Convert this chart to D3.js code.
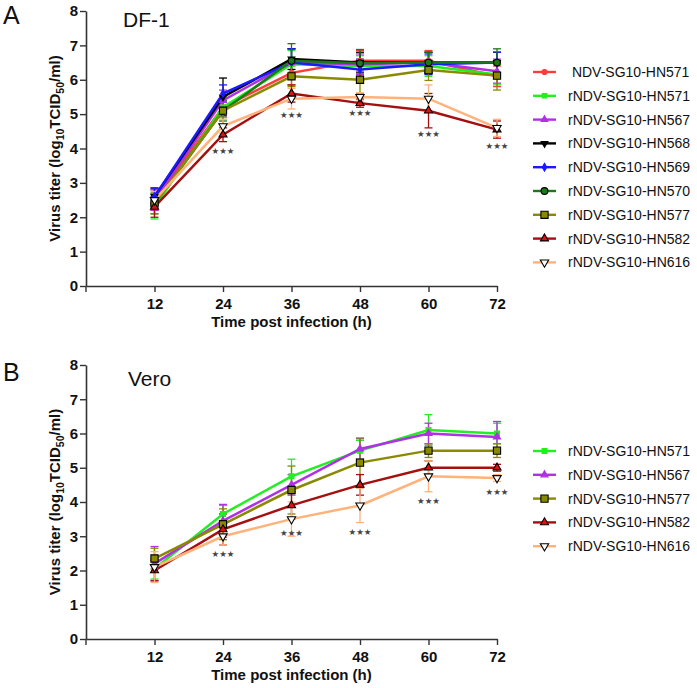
<!DOCTYPE html>
<html>
<head>
<meta charset="utf-8">
<script src="https://cdn.jsdelivr.net/npm/d3@7"></script>
<style>
  body { margin: 0; background: #fff; }
  svg { font-family: "Liberation Sans", Arial, sans-serif; }
</style>
</head>
<body>
<div id="chart"></div>
<script>
// Time points and axis ticks
const hours = [12, 24, 36, 48, 60, 72];
const yTicks = [0, 1, 2, 3, 4, 5, 6, 7, 8];

// DF-1 cells: mean titers
const dfNDV571 = [2.5, 5.2, 6.2, 6.55, 6.55, 6.1];
const dfR571 = [2.3, 5.2, 6.45, 6.4, 6.4, 6.15];
const dfR567 = [2.5, 5.4, 6.5, 6.45, 6.5, 6.25];
const dfR568 = [2.6, 5.5, 6.6, 6.5, 6.5, 6.5];
const dfR569 = [2.6, 5.6, 6.5, 6.3, 6.45, 6.5];
const dfR570 = [2.4, 5.1, 6.55, 6.48, 6.5, 6.5];
const dfR577 = [2.4, 5.1, 6.1, 6.0, 6.28, 6.12];
const dfR582 = [2.3, 4.4, 5.6, 5.32, 5.1, 4.55];
const dfR616 = [2.5, 4.65, 5.45, 5.5, 5.45, 4.6];

// DF-1 cells: SD
const dfNDV571sd = [0.3, 0.3, 0.35, 0.3, 0.3, 0.3];
const dfR571sd = [0.35, 0.3, 0.4, 0.3, 0.3, 0.3];
const dfR567sd = [0.3, 0.3, 0.4, 0.3, 0.3, 0.35];
const dfR568sd = [0.25, 0.55, 0.3, 0.3, 0.3, 0.3];
const dfR569sd = [0.25, 0.25, 0.4, 0.3, 0.3, 0.3];
const dfR570sd = [0.3, 0.3, 0.5, 0.4, 0.3, 0.4];
const dfR577sd = [0.3, 0.4, 0.3, 0.4, 0.3, 0.42];
const dfR582sd = [0.3, 0.2, 0.25, 0.12, 0.5, 0.25];
const dfR616sd = [0.25, 0.2, 0.3, 0.12, 0.4, 0.25];

// Vero cells: mean titers
const veR571 = [2.05, 3.65, 4.75, 5.5, 6.1, 6.0];
const veR567 = [2.2, 3.45, 4.5, 5.55, 6.0, 5.9];
const veR577 = [2.35, 3.35, 4.35, 5.15, 5.5, 5.5];
const veR582 = [2.0, 3.2, 3.9, 4.5, 5.0, 5.0];
const veR616 = [2.1, 3.0, 3.5, 3.9, 4.75, 4.7];

// Vero cells: SD
const veR571sd = [0.3, 0.25, 0.5, 0.3, 0.45, 0.3];
const veR567sd = [0.5, 0.48, 0.3, 0.3, 0.3, 0.45];
const veR577sd = [0.3, 0.45, 0.7, 0.72, 0.2, 0.2];
const veR582sd = [0.3, 0.45, 0.4, 0.3, 0.2, 0.1];
const veR616sd = [0.45, 0.25, 0.5, 0.5, 0.45, 0.1];

// Significance marks (level in titer units, null = none)
const dfStars = [null, 3.95, 5.0, 5.05, 4.45, 4.1];
const veStars = [null, 2.5, 3.12, 3.13, 4.04, 4.3];

const dfSeries = [
  {name: ' NDV-SG10-HN571', v: dfNDV571, sd: dfNDV571sd, color: '#ff3b3b', fill: '#ff3b3b', stroke: '#ff3b3b', sym: d3.symbolCircle, size: 20},
  {name: 'rNDV-SG10-HN571', v: dfR571, sd: dfR571sd, color: '#22ee22', fill: '#22ee22', stroke: '#22ee22', sym: d3.symbolSquare, size: 20},
  {name: 'rNDV-SG10-HN567', v: dfR567, sd: dfR567sd, color: '#b030e8', fill: '#b030e8', stroke: '#b030e8', sym: d3.symbolTriangle, size: 20},
  {name: 'rNDV-SG10-HN568', v: dfR568, sd: dfR568sd, color: '#000000', fill: '#000000', stroke: '#000000', sym: d3.symbolTriangle, size: 20, down: true},
  {name: 'rNDV-SG10-HN569', v: dfR569, sd: dfR569sd, color: '#1a1aff', fill: '#1a1aff', stroke: '#1a1aff', sym: d3.symbolDiamond, size: 18},
  {name: 'rNDV-SG10-HN570', v: dfR570, sd: dfR570sd, color: '#1a7a1a', fill: '#1a7a1a', stroke: '#000', sym: d3.symbolCircle, size: 36},
  {name: 'rNDV-SG10-HN577', v: dfR577, sd: dfR577sd, color: '#8a8a00', fill: '#8a8a00', stroke: '#000', sym: d3.symbolSquare, size: 52},
  {name: 'rNDV-SG10-HN582', v: dfR582, sd: dfR582sd, color: '#a50f0f', fill: '#e01010', stroke: '#000', sym: d3.symbolTriangle, size: 28},
  {name: 'rNDV-SG10-HN616', v: dfR616, sd: dfR616sd, color: '#ffb27a', fill: '#ffffff', stroke: '#000', sym: d3.symbolTriangle, size: 30, down: true}
];

const veSeries = [
  {name: 'rNDV-SG10-HN571', v: veR571, sd: veR571sd, color: '#22ee22', fill: '#22ee22', stroke: '#22ee22', sym: d3.symbolSquare, size: 24},
  {name: 'rNDV-SG10-HN567', v: veR567, sd: veR567sd, color: '#b030e8', fill: '#b030e8', stroke: '#b030e8', sym: d3.symbolTriangle, size: 22},
  {name: 'rNDV-SG10-HN577', v: veR577, sd: veR577sd, color: '#8a8a00', fill: '#8a8a00', stroke: '#000', sym: d3.symbolSquare, size: 52},
  {name: 'rNDV-SG10-HN582', v: veR582, sd: veR582sd, color: '#a50f0f', fill: '#e01010', stroke: '#000', sym: d3.symbolTriangle, size: 28},
  {name: 'rNDV-SG10-HN616', v: veR616, sd: veR616sd, color: '#ffb27a', fill: '#ffffff', stroke: '#000', sym: d3.symbolTriangle, size: 30, down: true}
];

const W = 697, H = 688;
const svg = d3.select('#chart').append('svg')
  .attr('width', W).attr('height', H);

function marker(g, s, x, y) {
  g.append('path')
    .attr('d', d3.symbol().type(s.sym).size(s.size)())
    .attr('transform', `translate(${x},${y})` + (s.down ? ' rotate(180)' : ''))
    .attr('fill', s.fill)
    .attr('stroke', s.stroke)
    .attr('stroke-width', 1.1);
}

function drawPanel(opt) {
  const x = d3.scaleLinear().domain([0, 72]).range([86, 497]);
  const y = d3.scaleLinear().domain([0, 8]).range([opt.bottom, opt.top]);
  const g = svg.append('g');

  // Axes
  const ax = g.append('g')
    .attr('transform', `translate(0,${opt.bottom})`)
    .call(d3.axisBottom(x).tickValues(hours).tickSize(6).tickPadding(6).tickSizeOuter(0));
  const ay = g.append('g')
    .attr('transform', `translate(86,0)`)
    .call(d3.axisLeft(y).tickValues(yTicks).tickSize(6).tickPadding(2).tickSizeOuter(0));
  [ax, ay].forEach(a => {
    a.select('.domain').attr('stroke', '#333').attr('stroke-width', 1.6);
    a.selectAll('.tick line').attr('stroke', '#333').attr('stroke-width', 1.4);
    a.selectAll('.tick text')
      .attr('fill', '#111')
      .style('font-size', '15px')
      .style('font-weight', 'bold')
      .style('font-family', '"Liberation Sans", Arial, sans-serif');
  });
  // extra tick at x=0 origin
  g.append('line').attr('x1', 86).attr('x2', 86)
    .attr('y1', opt.bottom).attr('y2', opt.bottom + 6)
    .attr('stroke', '#333').attr('stroke-width', 1.4);

  // Axis titles
  g.append('text')
    .attr('x', x(36)).attr('y', opt.bottom + 41)
    .attr('text-anchor', 'middle')
    .style('font-size', '15px').style('font-weight', 'bold')
    .attr('fill', '#111')
    .text('Time post infection (h)');

  const yt = g.append('text')
    .attr('transform', `translate(60,${(opt.top + opt.bottom) / 2}) rotate(-90)`)
    .attr('text-anchor', 'middle')
    .style('font-size', '15px').style('font-weight', 'bold')
    .attr('fill', '#111');
  yt.append('tspan').text('Virus titer (log');
  yt.append('tspan').attr('dy', 4).style('font-size', '10.5px').text('10');
  yt.append('tspan').attr('dy', -4).text('TCID');
  yt.append('tspan').attr('dy', 4).style('font-size', '10.5px').text('50');
  yt.append('tspan').attr('dy', -4).text('/ml)');

  // Panel letter & cell line
  g.append('text').attr('x', 3).attr('y', opt.letterY)
    .style('font-size', '25px').attr('fill', '#111').text(opt.letter);
  g.append('text').attr('x', opt.titleX).attr('y', opt.titleY)
    .style('font-size', '21px').attr('fill', '#111').text(opt.title);

  // Error bars
  opt.series.forEach(s => {
    const eg = g.append('g').attr('stroke', s.color).attr('stroke-width', 1.3);
    hours.forEach((h, i) => {
      const cx = x(h), y0 = y(s.v[i] - s.sd[i]), y1 = y(s.v[i] + s.sd[i]);
      eg.append('line').attr('x1', cx).attr('x2', cx).attr('y1', y0).attr('y2', y1);
      eg.append('line').attr('x1', cx - 4).attr('x2', cx + 4).attr('y1', y0).attr('y2', y0);
      eg.append('line').attr('x1', cx - 4).attr('x2', cx + 4).attr('y1', y1).attr('y2', y1);
    });
  });

  // Lines
  const line = d3.line().x((d, i) => x(hours[i])).y(d => y(d));
  opt.series.forEach(s => {
    g.append('path').datum(s.v)
      .attr('d', line)
      .attr('fill', 'none')
      .attr('stroke', s.color)
      .attr('stroke-width', 2.5);
  });

  // Markers
  opt.series.forEach(s => {
    s.v.forEach((v, i) => marker(g, s, x(hours[i]), y(v)));
  });

  // Significance stars
  opt.stars.forEach((lv, i) => {
    if (lv == null) return;
    g.append('text')
      .attr('x', x(hours[i])).attr('y', y(lv) + 3.5)
      .attr('text-anchor', 'middle')
      .style('font-size', '8.5px')
      .style('font-family', '"DejaVu Sans", sans-serif')
      .attr('fill', '#444')
      .text('★★★');
  });

  // Legend
  const lg = g.append('g');
  opt.series.forEach((s, i) => {
    const ly = opt.legendY + i * opt.legendStep;
    lg.append('line').attr('x1', 533).attr('x2', 556).attr('y1', ly).attr('y2', ly)
      .attr('stroke', s.color).attr('stroke-width', 2.4);
    marker(lg, s, 544.5, ly);
    lg.append('text').attr('x', 568).attr('y', ly + 5)
      .style('font-size', '14px').attr('fill', '#111')
      .attr('xml:space', 'preserve')
      .text(s.name);
  });
}

drawPanel({letter: 'A', title: 'DF-1', titleX: 123, titleY: 27, letterY: 24, top: 11, bottom: 286,
  series: dfSeries, stars: dfStars, legendY: 72, legendStep: 23.8});
drawPanel({letter: 'B', title: 'Vero', titleX: 128, titleY: 386, letterY: 381, top: 365, bottom: 639,
  series: veSeries, stars: veStars, legendY: 451, legendStep: 23.8});
</script>
</body>
</html>
